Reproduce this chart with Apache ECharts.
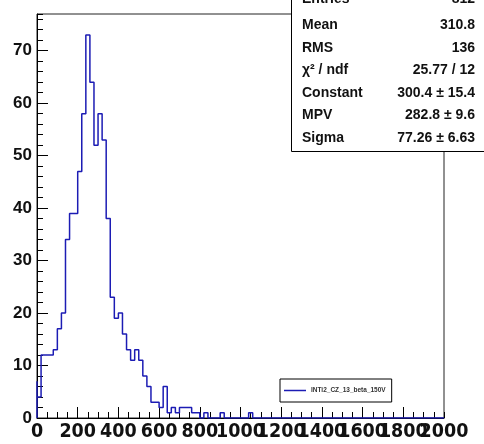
<!DOCTYPE html>
<html><head><meta charset="utf-8">
<script src="https://cdn.jsdelivr.net/npm/echarts@6/dist/echarts.min.js"></script>
<style>html,body{margin:0;padding:0;background:#fff}#c{width:484px;height:444px}</style>
</head><body><div id="c"></div>
<script>
// Histogram: 100 bins of width 20 over 0..2000
const binWidth = 20;
const binCounts = [
  7,4,12,12,12,13,17,20,34,39,
  39,47,58,73,64,52,58,53,38,23,
  19,20,16,13,11,13,11,8,6,3,
  3,2,6,1,2,1,2,2,2,1,
  1,0,1,0,0,0,1,0,0,0,
  0,0,0,1,0,0,0,0,0,0,
  0,0,0,0,0,0,0,0,0,0,
  0,0,0,0,0,0,0,0,0,0,
  0,0,0,0,0,0,0,0,0,0,
  0,0,0,0,0,0,0,0,0,0
];
const xTicks = [0,200,400,600,800,1000,1200,1400,1600,1800,2000];
const yTicks = [0,10,20,30,40,50,60,70];
const seriesName = 'INTi2_CZ_13_beta_150V';
const statLabels = ['Entries','Mean','RMS','\u03c7\u00b2 / ndf','Constant','MPV','Sigma'];
const statValues = ['812','310.8','136','25.77 / 12','300.4 \u00b1 15.4','282.8 \u00b1 9.6','77.26 \u00b1 6.63'];

const pts = [[0,0]];
binCounts.forEach((v,k)=>pts.push([k*binWidth, v]));
pts.push([binCounts.length*binWidth, binCounts[binCounts.length-1]]);

const xMax = xTicks[xTicks.length-1];
const chart = echarts.init(document.getElementById('c'), null, {renderer:'canvas'});
const F = 'Liberation Sans, Arial, Helvetica, sans-serif';
const XF = 'Liberation Sans Narrow, DejaVu Sans Condensed, Arial Narrow, sans-serif';
const statGraphics = [{
  type:'rect', z:100, shape:{x:291.5, y:-5, width:200, height:156.5},
  style:{fill:'#fff', stroke:'#000', lineWidth:1}
}];
statLabels.forEach((s,i)=>{
  const yc = (i === 0 ? -1 : 2.5 + i*22.6);
  statGraphics.push({type:'text', z:101, x:302, y:yc, style:{text:s, font:'bold 14px '+F, fill:'#111', textVerticalAlign:'middle', textAlign:'left'}});
  statGraphics.push({type:'text', z:101, x:475, y:yc, style:{text:statValues[i], font:'bold 14px '+F, fill:'#111', textVerticalAlign:'middle', textAlign:'right'}});
});

chart.setOption({
  animation:false,
  backgroundColor:'#fff',
  grid:{left:37, right:40, top:14, bottom:26, show:true, borderColor:'#222', borderWidth:1, backgroundColor:'transparent'},
  xAxis:[{
    type:'value', min:xTicks[0], max:xMax, interval:xTicks[1]-xTicks[0],
    axisLine:{show:true, lineStyle:{color:'#000'}},
    axisTick:{show:true, inside:true, length:11, lineStyle:{color:'#000'}},
    axisLabel:{show:true, showMinLabel:true, showMaxLabel:false, hideOverlap:false, margin:4, fontSize:19.5, fontWeight:'bold', color:'#111',
      fontFamily:XF, formatter:(v)=>String(v)},
    splitLine:{show:false}
  },{
    type:'value', position:'bottom', min:0, max:xMax, interval:50,
    axisLine:{show:false}, splitLine:{show:false},
    axisLabel:{show:true, showMaxLabel:true, hideOverlap:false, margin:4, fontSize:19.5, fontWeight:'bold', color:'#111',
      fontFamily:XF, formatter:(v)=>(v===xMax ? String(v) : '')},
    axisTick:{show:true, inside:true, length:6, lineStyle:{color:'#000'}}
  }],
  yAxis:[{
    type:'value', min:0, max:77, interval:yTicks[1]-yTicks[0],
    axisLine:{show:true, lineStyle:{color:'#000'}},
    axisTick:{show:true, inside:true, length:11, lineStyle:{color:'#000'}},
    axisLabel:{show:true, showMaxLabel:false, margin:5, fontSize:17, fontWeight:'bold', color:'#111', fontFamily:F,
      formatter:(v)=>String(v)},
    splitLine:{show:false}
  },{
    type:'value', position:'left', min:0, max:77, interval:2,
    axisLine:{show:false}, axisLabel:{show:false}, splitLine:{show:false},
    axisTick:{show:true, inside:true, length:6, lineStyle:{color:'#000'}}
  }],
  legend:{
    left:280, top:379, backgroundColor:'#fff', borderColor:'#000', borderWidth:1,
    padding:[8,6,8,4], itemWidth:22, itemHeight:1.5, itemGap:0,
    textStyle:{fontSize:6.5, fontWeight:'bold', color:'#333', fontFamily:F},
    data:[{name:seriesName, icon:'rect', itemStyle:{color:'#1c1cb4'}}]
  },
  series:[{
    name:seriesName, type:'line', step:'start', xAxisIndex:0, yAxisIndex:0,
    data:pts, symbol:'none', showSymbol:false, clip:true,
    itemStyle:{color:'#1c1cb4'},
    lineStyle:{color:'#1c1cb4', width:1.5}, z:5
  }],
  graphic:statGraphics
});
</script>
</body></html>
